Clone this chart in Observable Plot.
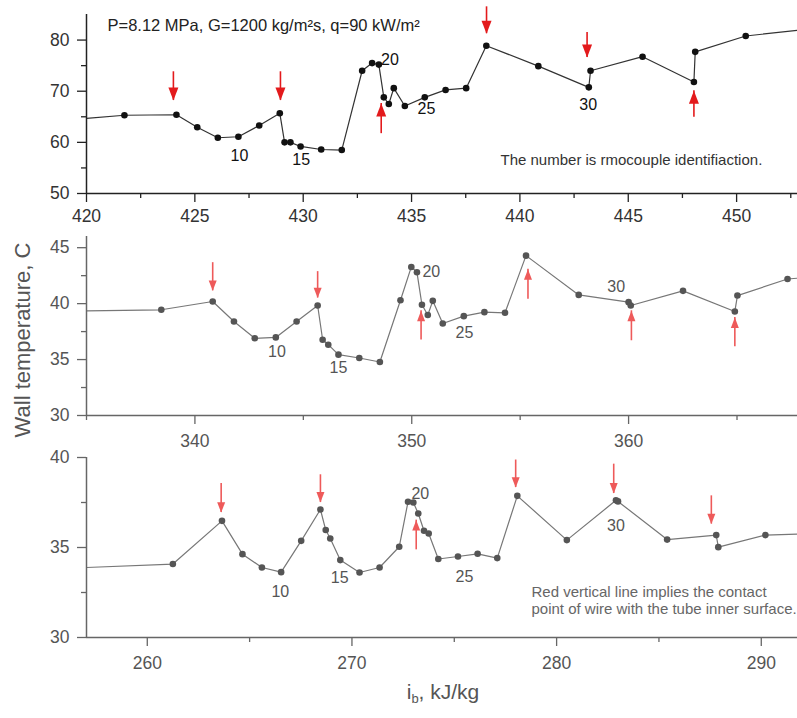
<!DOCTYPE html>
<html><head><meta charset="utf-8">
<script src="https://cdn.jsdelivr.net/npm/d3@7"></script>
<script src="https://cdn.jsdelivr.net/npm/@observablehq/plot@0.6"></script>
<style>
body{margin:0;background:#fff;}
#wrap{position:relative;width:797px;height:718px;overflow:hidden;font-family:"Liberation Sans",Arial,sans-serif;background:#fff;}
#wrap svg{position:absolute;left:0;overflow:visible;background:transparent;}
.ylab{position:absolute;left:23px;top:340px;transform:translate(-50%,-50%) rotate(-90deg);white-space:nowrap;font-size:22px;color:#555;}
.xlab{position:absolute;left:443px;top:693px;transform:translate(-50%,-50%);white-space:nowrap;font-size:21px;color:#555;}
.xlab sub{font-size:13px;vertical-align:-4px;}
</style></head><body><div id="wrap"></div>
<script>
// ---------- data ----------
const labelText = ["10", "15", "20", "25", "30"];

// top panel: P=8.12 MPa
const topX = [420, 421.75, 424.15, 425.11, 426.06, 427.01, 427.97, 428.92, 429.14, 429.41, 429.88, 430.83, 431.78, 432.72, 433.18, 433.49, 433.72, 433.95, 434.18, 434.69, 435.61, 436.57, 437.52, 438.45, 440.85, 443.18, 443.26, 445.66, 448.03, 448.09, 450.42, 452.81];
const topY = [64.7, 65.3, 65.4, 62.95, 60.9, 61.1, 63.3, 65.7, 60.0, 60.0, 59.2, 58.6, 58.5, 74.0, 75.5, 75.2, 68.8, 67.5, 70.6, 67.1, 68.8, 70.25, 70.6, 78.9, 74.9, 70.76, 74.0, 76.75, 71.8, 77.7, 80.8, 81.9];
const topArrowX = [424.01, 428.95, 433.6, 438.46, 443.1, 448.03];
const topArrowTail = [73.8, 73.8, 61.7, 86.5, 81.5, 64.9];
const topArrowTip = [68.2, 68.2, 67.6, 81.25, 76.6, 70.1];
const topLabelX = [427.06, 429.91, 434.0, 435.69, 443.15];
const topLabelY = [57.4, 56.6, 76.1, 66.6, 67.4];
const topXTicks = [420, 425, 430, 435, 440, 445, 450];
const topXMinor = [422.5, 427.5, 432.5, 437.5, 442.5, 447.5, 452.5];
const topYTicks = [50, 60, 70, 80];
const topYMinor = [55, 65, 75];

// middle panel
const midX = [335, 338.45, 340.82, 341.8, 342.76, 343.73, 344.69, 345.66, 345.89, 346.15, 346.62, 347.58, 348.53, 349.48, 349.98, 350.24, 350.47, 350.74, 350.97, 351.43, 352.4, 353.35, 354.3, 355.27, 357.7, 360.0, 360.1, 362.51, 364.9, 365.02, 367.33, 367.79];
const midY = [39.35, 39.45, 40.19, 38.4, 36.9, 36.98, 38.4, 39.83, 36.77, 36.33, 35.44, 35.14, 34.78, 40.3, 43.28, 42.8, 39.9, 38.98, 40.25, 38.22, 38.88, 39.24, 39.18, 44.29, 40.78, 40.13, 39.83, 41.14, 39.3, 40.72, 42.2, 42.27];
const midArrowX = [340.82, 345.66, 350.43, 355.36, 360.13, 364.9];
const midArrowTail = [43.66, 42.86, 36.75, 40.4, 36.68, 36.15];
const midArrowTip = [41.14, 40.5, 39.36, 43.07, 39.36, 38.76];
const midLabelX = [343.78, 346.62, 350.9, 352.43, 359.43];
const midLabelY = [35.73, 34.26, 42.83, 37.4, 41.5];
const midXTicks = [340, 350, 360];
const midXMinor = [335, 345, 355, 365];
const midYTicks = [30, 35, 40, 45];
const midYMinor = [32.5, 37.5, 42.5];

// bottom panel
const botX = [257.03, 261.25, 263.65, 264.65, 265.6, 266.54, 267.52, 268.46, 268.72, 268.94, 269.43, 270.37, 271.35, 272.31, 272.74, 273.0, 273.24, 273.52, 273.75, 274.22, 275.18, 276.14, 277.1, 278.08, 280.5, 282.9, 283.0, 285.4, 287.8, 287.9, 290.2, 291.77];
const botY = [33.89, 34.08, 36.48, 34.63, 33.89, 33.63, 35.37, 37.11, 35.97, 35.5, 34.3, 33.61, 33.89, 35.04, 37.54, 37.5, 36.89, 35.93, 35.78, 34.36, 34.5, 34.65, 34.41, 37.87, 35.41, 37.62, 37.56, 35.44, 35.69, 35.02, 35.69, 35.74];
const botArrowX = [263.61, 268.46, 273.14, 278.0, 282.79, 287.56];
const botArrowTail = [38.56, 39.04, 34.87, 39.86, 39.63, 37.87];
const botArrowTip = [36.94, 37.5, 36.52, 38.33, 38.0, 36.3];
const botLabelX = [266.5, 269.4, 273.34, 275.5, 282.9];
const botLabelY = [32.56, 33.33, 38.0, 33.37, 36.2];
const botXTicks = [260, 270, 280, 290];
const botXMinor = [265, 275, 285];
const botYTicks = [30, 35, 40];
const botYMinor = [32.5, 37.5];

const paramText = "P=8.12 MPa, G=1200 kg/m\u00b2s, q=90 kW/m\u00b2";
const noteTop = "The number is rmocouple identifiaction.";
const noteBottom = "Red vertical line implies the contact\npoint of wire with the tube inner surface.";
const yTitle = "Wall temperature, C";

// ---------- drawing ----------
const FONT = '"Liberation Sans", Arial, sans-serif';
const headDown = {draw(ctx, size) { const k = Math.sqrt(size / Math.PI); ctx.moveTo(0, 0); ctx.lineTo(-k, -2.6 * k); ctx.lineTo(k, -2.6 * k); ctx.closePath(); }};
const headUp = {draw(ctx, size) { const k = Math.sqrt(size / Math.PI); ctx.moveTo(0, 0); ctx.lineTo(-k, 2.6 * k); ctx.lineTo(k, 2.6 * k); ctx.closePath(); }};

function panel(o) {
  const pts = o.X.map((x, i) => ({x, y: o.Y[i]}));
  const arrows = o.AX.map((x, i) => ({x, tail: o.AT[i], tip: o.AP[i]}));
  const labels = labelText.map((t, i) => ({t, x: o.LX[i], y: o.LY[i]}));
  const [x0, x1] = o.xDomain;
  const svg = Plot.plot({
    width: 797, height: o.height,
    marginLeft: 86, marginRight: 0, marginTop: o.marginTop, marginBottom: o.marginBottom,
    style: {fontFamily: FONT, background: "transparent", overflow: "visible"},
    x: {domain: o.xDomain}, y: {domain: o.yDomain},
    marks: [
      Plot.line(pts, {x: "x", y: "y", stroke: o.lineInk, strokeWidth: 1.2, clip: true}),
      Plot.dot(pts.filter(d => d.x > x0 && d.x < x1), {x: "x", y: "y", r: 3.3, fill: o.dotInk}),
      Plot.ruleX(arrows, {x: "x", y1: "tail", y2: "tip", stroke: o.arrowInk, strokeWidth: 1.6}),
      Plot.dot(arrows.filter(d => d.tip < d.tail), {x: "x", y: "tip", symbol: headDown, r: o.headR, fill: o.arrowInk}),
      Plot.dot(arrows.filter(d => d.tip > d.tail), {x: "x", y: "tip", symbol: headUp, r: o.headR, fill: o.arrowInk}),
      Plot.text(labels, {x: "x", y: "y", text: "t", fontSize: 16, fill: o.ink}),
      Plot.ruleX([x0], {stroke: o.axisInk, strokeWidth: 1.5}),
      Plot.ruleY([o.yDomain[0]], {stroke: o.axisInk, strokeWidth: 1.5}),
      Plot.axisX(o.xTicks, {tickSize: 9, tickPadding: o.xPad, fontSize: 17.5, stroke: o.axisInk, fill: o.tickInk, strokeWidth: 1.3, label: null}),
      Plot.axisX(o.xMinor.filter(v => v <= x1), {tickSize: 5, tickFormat: () => "", stroke: o.axisInk, strokeWidth: 1.3, label: null}),
      Plot.axisY(o.yTicks, {tickSize: 9, tickPadding: 8, fontSize: 17.5, stroke: o.axisInk, fill: o.tickInk, strokeWidth: 1.3, label: null}),
      Plot.axisY(o.yMinor, {tickSize: 5, tickFormat: () => "", stroke: o.axisInk, strokeWidth: 1.3, label: null}),
      ...(o.extra || [])
    ]
  });
  svg.style.top = o.top + "px";
  return svg;
}

const wrap = document.getElementById("wrap");

wrap.appendChild(panel({
  top: 0, height: 230, marginTop: 14, marginBottom: 37, xPad: 7,
  X: topX, Y: topY, AX: topArrowX, AT: topArrowTail, AP: topArrowTip, LX: topLabelX, LY: topLabelY,
  xDomain: [420, 452.81], yDomain: [50, 85],
  xTicks: topXTicks, xMinor: topXMinor, yTicks: topYTicks, yMinor: topYMinor,
  ink: "#111", lineInk: "#333", dotInk: "#111", arrowInk: "#e31a1c", axisInk: "#222", tickInk: "#333", headR: 5,
  extra: [
    Plot.text([paramText], {text: d => d, frameAnchor: "top-left", dx: 21, dy: 11, textAnchor: "start", lineAnchor: "middle", fontSize: 16.5, fill: "#222"}),
    Plot.text([noteTop], {text: d => d, frameAnchor: "top-left", dx: 414, dy: 146, textAnchor: "start", lineAnchor: "middle", fontSize: 15, fill: "#333"})
  ]
}));

wrap.appendChild(panel({
  top: 230, height: 220, marginTop: 6, marginBottom: 35, xPad: 10.5,
  X: midX, Y: midY, AX: midArrowX, AT: midArrowTail, AP: midArrowTip, LX: midLabelX, LY: midLabelY,
  xDomain: [335, 367.79], yDomain: [30, 46],
  xTicks: midXTicks, xMinor: midXMinor, yTicks: midYTicks, yMinor: midYMinor,
  ink: "#555", lineInk: "#777", dotInk: "#555", arrowInk: "#ee5a5a", axisInk: "#666", tickInk: "#555", headR: 4
}));

wrap.appendChild(panel({
  top: 450, height: 232, marginTop: 7, marginBottom: 45, xPad: 10,
  X: botX, Y: botY, AX: botArrowX, AT: botArrowTail, AP: botArrowTip, LX: botLabelX, LY: botLabelY,
  xDomain: [257.03, 291.77], yDomain: [30, 40],
  xTicks: botXTicks, xMinor: botXMinor, yTicks: botYTicks, yMinor: botYMinor,
  ink: "#555", lineInk: "#777", dotInk: "#555", arrowInk: "#ee5a5a", axisInk: "#666", tickInk: "#555", headR: 4,
  extra: [
    Plot.text([noteBottom], {text: d => d, frameAnchor: "top-left", dx: 445, dy: 142.5, textAnchor: "start", lineAnchor: "middle", lineHeight: 1.17, fontSize: 15, fill: "#666"})
  ]
}));

const yl = document.createElement("div"); yl.className = "ylab"; yl.textContent = yTitle; wrap.appendChild(yl);
const xl = document.createElement("div"); xl.className = "xlab"; xl.innerHTML = "i<sub>b</sub>, kJ/kg"; wrap.appendChild(xl);
</script></body></html>
